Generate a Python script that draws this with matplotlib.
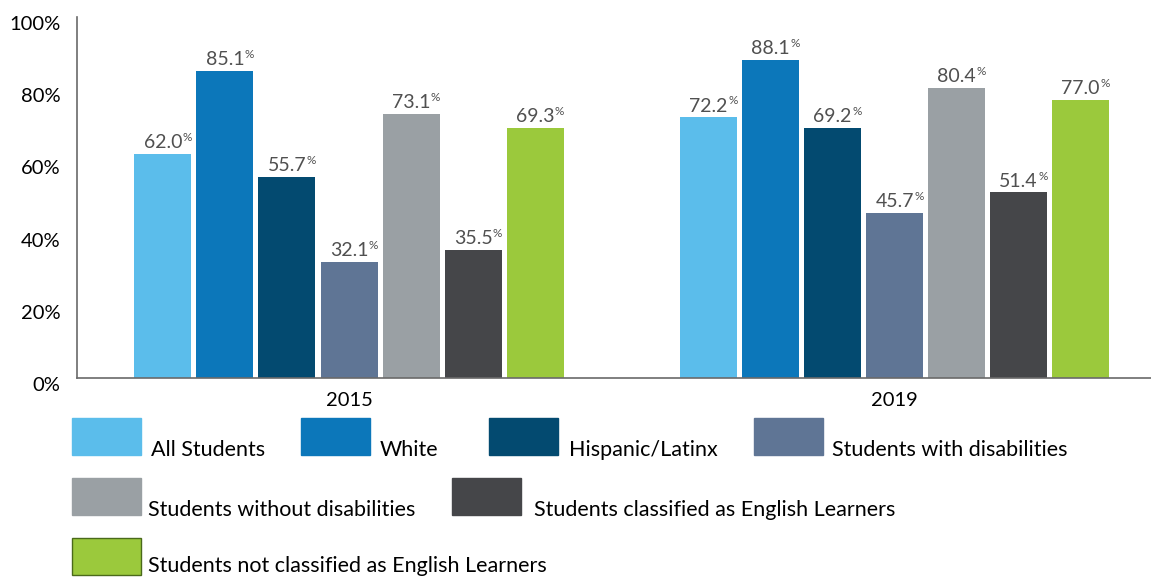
import matplotlib
matplotlib.use("Agg")
import matplotlib.pyplot as plt
from matplotlib.patches import Rectangle
from matplotlib.transforms import ScaledTranslation
import numpy as np

plt.rcParams['font.family'] = ['Lato', 'DejaVu Sans']

# data
years = ["2015", "2019"]
groups = ["All Students", "White", "Hispanic/Latinx", "Students with disabilities",
          "Students without disabilities", "Students classified as English Learners",
          "Students not classified as English Learners"]
values_2015 = [62.0, 85.1, 55.7, 32.1, 73.1, 35.5, 69.3]
values_2019 = [72.2, 88.1, 69.2, 45.7, 80.4, 51.4, 77.0]
colors = ["#5BBDEB", "#0C77BA", "#034A70", "#5F7595", "#9AA0A4", "#454649", "#9BC93C"]
yticks = [0, 20, 40, 60, 80, 100]

W, H = 1151, 577
fig = plt.figure(figsize=(W / 100, H / 100), dpi=100)
ax = fig.add_axes([77 / W, 1 - 378 / H, 1 - 77 / W, (378 - 17) / H])

x = np.arange(len(years))
step = 0.1137
width = 0.1045
n = len(groups)
for i, g in enumerate(groups):
    vals = [values_2015[i], values_2019[i]]
    pos = x + (i - (n - 1) / 2) * step
    ax.bar(pos, vals, width=width, color=colors[i], zorder=2)
    for px, v in zip(pos, vals):
        t = ax.annotate(f"{v:.1f}", (px, v), xytext=(0, 2), textcoords="offset points",
                        ha="center", va="bottom", fontsize=14, color="#505050")
        # small superscript percent sign
        ax.annotate("%", xy=(1, 1), xycoords=t, xytext=(0.3, 1.5),
                    textcoords="offset points", ha="left", va="top",
                    fontsize=8.5, color="#505050")

ax.set_xlim(-0.4986, 1.47)
ax.set_ylim(0, 100)
ax.set_yticks(yticks)
ax.set_yticklabels([f"{t}%" for t in yticks], fontsize=14.5, color="black")
ax.set_xticks(x)
ax.set_xticklabels(years, fontsize=14.5, color="black")
ax.tick_params(axis="y", length=0, pad=12)
ax.tick_params(axis="x", length=0, pad=10)
shift = ScaledTranslation(0, -6 / 100, fig.dpi_scale_trans)
for lab in ax.get_yticklabels():
    lab.set_transform(lab.get_transform() + shift)
for s in ["top", "right"]:
    ax.spines[s].set_visible(False)
for s in ["left", "bottom"]:
    ax.spines[s].set_color("#6a6a6a")
    ax.spines[s].set_linewidth(1.2)

# legend drawn by hand: (patch left, patch top, text left, text baseline) in pixels
legend_pos = [(72, 418, 151, 456), (301, 418, 380, 456), (489, 418, 569, 456),
              (754, 418, 832, 456), (72, 478, 148, 516), (452, 478, 534, 516),
              (72, 538, 148, 572)]
for i, g in enumerate(groups):
    lx, ly, tx, ty = legend_pos[i]
    ec = "#4a6a1a" if i == 6 else colors[i]
    fig.patches.append(Rectangle((lx / W, 1 - (ly + 37) / H), 69 / W, 37 / H,
                                 transform=fig.transFigure, facecolor=colors[i],
                                 edgecolor=ec, linewidth=1))
    fig.text(tx / W, 1 - ty / H, g, fontsize=15.5, color="black",
             ha="left", va="baseline")

fig.savefig("out.png", dpi=100)
